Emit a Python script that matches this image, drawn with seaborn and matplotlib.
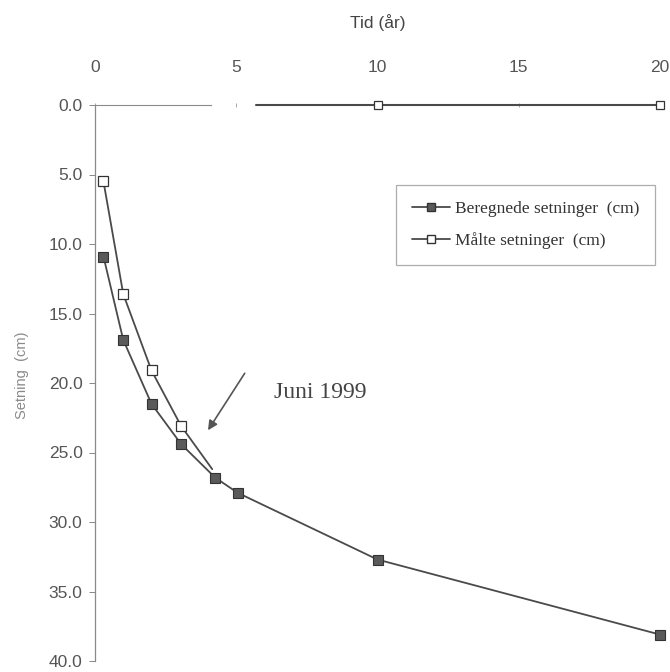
import numpy as np
import pandas as pd
import matplotlib
matplotlib.use("Agg")
import matplotlib.pyplot as plt
from matplotlib.lines import Line2D
import seaborn as sns

# ---- data ----
calc_x = [0.3, 1.0, 2.0, 3.05, 4.25, 5.05, 10.0, 20.0]
calc_y = [10.9, 16.9, 21.5, 24.4, 26.8, 27.9, 32.7, 38.1]
meas_x = [0.3, 1.0, 2.0, 3.05, 4.15]
meas_y = [5.5, 13.6, 19.1, 23.1, 26.2]
meas2_x = [5.7, 10.0, 20.0]
meas2_y = [0.0, 0.0, 0.0]
x_ticks = [0, 5, 10, 15, 20]
y_ticks = [0, 5, 10, 15, 20, 25, 30, 35, 40]
calc_label = "Beregnede setninger  (cm)"
meas_label = "Målte setninger  (cm)"
x_title = "Tid (år)"
y_title = "Setning  (cm)"
note_text = "Juni 1999"
note_xy = (5.3, 19.3)
note_tip = (4.0, 23.4)

sns.set_style("white")
plt.rcParams["font.family"] = ["Liberation Sans", "DejaVu Sans"]

W, H = 670, 672
ax_left, ax_right, ax_top, ax_bottom = 95, 660, 105, 661
ax_w, ax_h = ax_right - ax_left, ax_bottom - ax_top

fig = plt.figure(figsize=(6.7, 6.72), dpi=100)
ax = fig.add_axes([ax_left / W, 1 - ax_bottom / H, ax_w / W, ax_h / H])

line_col = "#4a4a4a"
sns.lineplot(x=calc_x, y=calc_y, ax=ax, sort=False, estimator=None,
             color=line_col, lw=1.3, marker="s", markersize=6.5,
             markerfacecolor="#5a5a5a", markeredgecolor="#333333",
             markeredgewidth=0.8, clip_on=False, zorder=3)
sns.lineplot(x=meas_x, y=meas_y, ax=ax, sort=False, estimator=None,
             color=line_col, lw=1.3, marker="s", markersize=6.5,
             markerfacecolor="white", markeredgecolor="#333333",
             markeredgewidth=0.9, markevery=[0, 1, 2, 3], clip_on=False, zorder=4)
sns.lineplot(x=meas2_x, y=meas2_y, ax=ax, sort=False, estimator=None,
             color=line_col, lw=1.5, marker="s", markersize=6.0,
             markerfacecolor="white", markeredgecolor="#333333",
             markeredgewidth=0.9, markevery=[1, 2], clip_on=False, zorder=4)

ax.set_xlim(0, 20)
ax.set_ylim(40, 0)
ax.xaxis.set_ticks_position("top")
ax.xaxis.set_label_position("top")
ax.set_xticks(x_ticks)
ax.set_xticklabels([str(v) for v in x_ticks])
ax.set_yticks(y_ticks)
ax.set_yticklabels([f"{v:.1f}" for v in y_ticks])

ax.tick_params(axis="x", which="both", top=True, bottom=False, direction="inout",
               length=3, width=0.6, color="#999999", pad=20,
               labelsize=12.5, labelcolor="#555555")
ax.tick_params(axis="y", which="both", left=True, direction="out",
               length=4, width=0.7, color="#888888", pad=5,
               labelsize=12.5, labelcolor="#555555")

for s in ["right", "bottom"]:
    ax.spines[s].set_visible(False)
ax.spines["left"].set_color("#8a8a8a")
ax.spines["left"].set_linewidth(0.9)
ax.spines["top"].set_color("#8a8a8a")
ax.spines["top"].set_linewidth(0.8)
ax.spines["top"].set_bounds(0, 4.1)

ax.set_xlabel(x_title, fontsize=12.5, color="#444444")
ax.xaxis.set_label_coords(0.5, 1 + (ax_top - 23) / ax_h)
ax.xaxis.label.set_verticalalignment("center")
ax.set_ylabel(y_title, fontsize=10.5, color="#8a8a8a")
ax.yaxis.set_label_coords((22 - ax_left) / ax_w, 1 - (375 - ax_top) / ax_h)
ax.yaxis.label.set_verticalalignment("center")

ax.annotate("", xy=note_tip, xytext=note_xy,
            arrowprops=dict(arrowstyle="-|>", color="#555555", lw=1.2,
                            mutation_scale=14, shrinkA=0, shrinkB=0))
ax.text((320 - ax_left) / ax_w, 1 - (393 - ax_top) / ax_h, note_text,
        transform=ax.transAxes, ha="center", va="center",
        fontsize=17, color="#444444",
        family=["Liberation Serif", "DejaVu Serif"])

handles = [
    Line2D([0], [0], color=line_col, lw=1.3, marker="s", markersize=6,
           markerfacecolor="#5a5a5a", markeredgecolor="#333333"),
    Line2D([0], [0], color=line_col, lw=1.3, marker="s", markersize=6,
           markerfacecolor="white", markeredgecolor="#333333"),
]
leg = ax.legend(handles, [calc_label, meas_label], loc="upper right",
                bbox_to_anchor=((655 - ax_left) / ax_w, 1 - (185 - ax_top) / ax_h),
                borderaxespad=0, frameon=True, fancybox=False,
                handlelength=2.2, handletextpad=0.3, labelspacing=0.9,
                borderpad=0.9,
                prop={"family": ["Liberation Serif", "DejaVu Serif"], "size": 12.5})
leg.get_frame().set_edgecolor("#999999")
leg.get_frame().set_linewidth(0.9)
for t in leg.get_texts():
    t.set_color("#333333")

fig.savefig("out.png", dpi=100)
